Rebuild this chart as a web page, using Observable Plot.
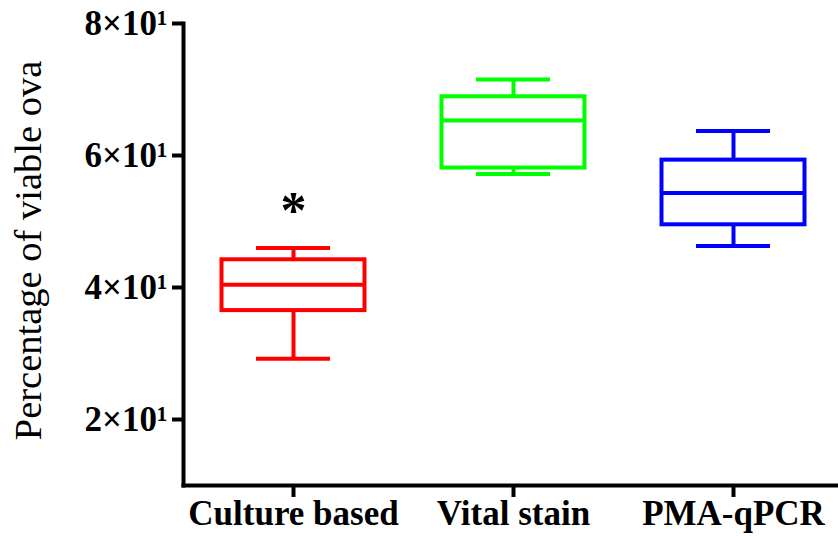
<!DOCTYPE html>
<html>
<head>
<meta charset="utf-8">
<script src="https://cdn.jsdelivr.net/npm/d3@7"></script>
<script src="https://cdn.jsdelivr.net/npm/@observablehq/plot@0.6"></script>
<style>
  html, body { margin: 0; padding: 0; background: #fff; }
</style>
</head>
<body>
<div id="chart"></div>
<script>
const categories = ["Culture based", "Vital stain", "PMA-qPCR"];
const mins    = [29.2, 57.2, 46.3];
const q1s     = [36.5, 58.1, 49.5];
const medians = [40.4, 65.3, 54.3];
const q3s     = [44.2, 68.9, 59.3];
const maxs    = [46.0, 71.5, 63.7];
const colors  = ["#ff0000", "#00ff00", "#0000ff"];
const yTicks = [20, 40, 60, 80];
const yTickLabels = ["2×10¹", "4×10¹", "6×10¹", "8×10¹"];
const yTitle = "Percentage of viable ova";
const annotations = [{cat: "Culture based", y: 52.4, label: "*"}];

const data = categories.map((c, i) => ({
  cat: c, min: mins[i], q1: q1s[i], median: medians[i], q3: q3s[i], max: maxs[i], color: colors[i]
}));

const chart = Plot.plot({
  width: 838,
  height: 536,
  marginLeft: 183,
  marginRight: 0,
  marginTop: 23,
  marginBottom: 51,
  style: {fontFamily: "'Liberation Serif', 'Times New Roman', serif", background: "#fff", color: "#000"},
  x: {domain: categories, range: [183, 843], padding: 0},
  y: {domain: [10, 80]},
  color: {type: "identity"},
  marks: [
    Plot.ruleX(data, {x: "cat", y1: "min", y2: "q1", stroke: "color", strokeWidth: 4}),
    Plot.ruleX(data, {x: "cat", y1: "q3", y2: "max", stroke: "color", strokeWidth: 4}),
    Plot.barY(data, {x: "cat", y1: "q1", y2: "q3", fill: "white", stroke: "color", strokeWidth: 4, insetLeft: 38.5, insetRight: 38.5}),
    Plot.tickY(data, {x: "cat", y: "median", stroke: "color", strokeWidth: 4, insetLeft: 38.5, insetRight: 38.5}),
    Plot.tickY(data, {x: "cat", y: "min", stroke: "color", strokeWidth: 4, insetLeft: 73, insetRight: 73}),
    Plot.tickY(data, {x: "cat", y: "max", stroke: "color", strokeWidth: 4, insetLeft: 73, insetRight: 73}),
    Plot.text(annotations, {x: "cat", y: "y", text: "label", fontSize: 52, fontWeight: "bold", dy: 6, fill: "#000"}),
    Plot.frame({anchor: "left", stroke: "#000", strokeWidth: 4}),
    Plot.frame({anchor: "bottom", stroke: "#000", strokeWidth: 4}),
    Plot.axisY({ticks: yTicks, tickFormat: d => yTickLabels[yTicks.indexOf(d)], tickSize: 11, tickPadding: 5,
      strokeWidth: 4, fontSize: 35, fontWeight: "bold", label: null, fill: "#000", stroke: "#000"}),
    Plot.axisX({tickSize: 12, tickPadding: 3, strokeWidth: 4, fontSize: 35, fontWeight: "bold", label: null, fill: "#000", stroke: "#000"}),
    Plot.text([yTitle], {frameAnchor: "left", textAnchor: "middle", dx: -155, dy: -4, rotate: -90, fontSize: 38.5, fill: "#000"})
  ]
});
document.getElementById("chart").appendChild(chart);
</script>
</body>
</html>
